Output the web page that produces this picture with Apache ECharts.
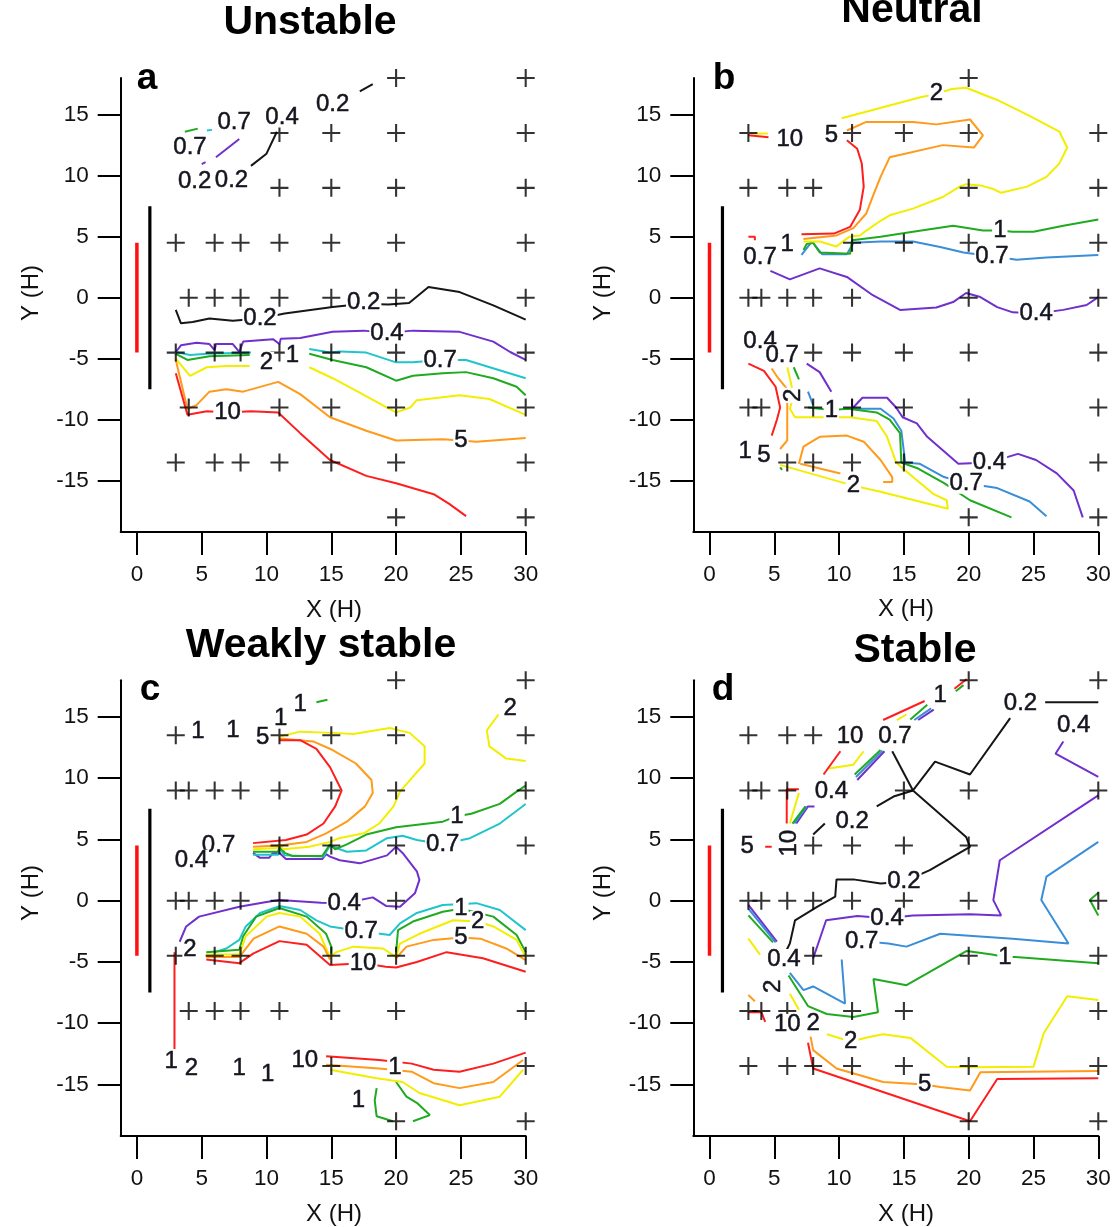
<!DOCTYPE html>
<html><head><meta charset="utf-8">
<script src="https://cdn.jsdelivr.net/npm/echarts@6/dist/echarts.min.js"></script>
<style>html,body{margin:0;padding:0;background:#fff}#c{width:1120px;height:1227px}</style>
</head><body><div id="c"></div>
<script>
// ---------- tick labels / titles ----------
const X_TICKS = [0, 5, 10, 15, 20, 25, 30];
const Y_TICKS = [-15, -10, -5, 0, 5, 10, 15];
const PANEL_TITLES = ['Unstable', 'Neutral', 'Weakly stable', 'Stable'];
const PANEL_LETTERS = ['a', 'b', 'c', 'd'];
const X_NAME = 'X (H)';
const Y_NAME = 'Y (H)';
const RED_BAR = [[0, 4.5], [0, -4.5]];
const BLACK_BAR = [[1, 7.5], [1, -7.5]];

// ---------- panel a (Unstable) ----------
const A_PLUS = [[20,18],[30,18],[11,13.5],[15,13.5],[20,13.5],[30,13.5],[11,9],[15,9],[20,9],[30,9],
 [3,4.5],[6,4.5],[8,4.5],[11,4.5],[15,4.5],[20,4.5],[30,4.5],[4,0],[6,0],[8,0],[11,0],[15,0],[20,0],[30,0],
 [3,-4.5],[6,-4.5],[8,-4.5],[11,-4.5],[15,-4.5],[20,-4.5],[30,-4.5],[4,-9],[11,-9],[15,-9],[20,-9],[30,-9],
 [3,-13.5],[6,-13.5],[8,-13.5],[11,-13.5],[15,-13.5],[20,-13.5],[30,-13.5],[20,-18],[30,-18]];
const A_L02 = [
 [[17.2,16.9],[18.2,17.5]],
 [[8.8,10.8],[10,11.8],[10.8,13.6]],
 [[3,-1.0],[3.4,-2.1],[4.3,-2.0],[5.6,-1.7],[7.4,-1.9],[9.5,-1.7],[11.4,-1.3],[15.1,-0.77],[17.5,-0.5],[19.4,-0.55],[21,-0.44],[22.5,0.87],[24.9,0.46],[27.5,-0.63],[30,-1.8]]];
const A_L04 = [
 [[6.1,11.5],[7.9,13.0]],
 [[5.0,10.95],[5.3,11.1]],
 [[3,-4.45],[3.4,-3.9],[4.6,-3.7],[5.6,-3.8],[6,-4.3],[6.1,-3.8],[7.4,-3.8],[7.9,-4.45],[8.2,-3.6],[10.5,-3.4],[11,-3.8],[11.1,-3.36],[12.6,-3.3],[15.1,-2.8],[17.5,-2.7],[19.3,-2.9],[21.3,-2.7],[24.9,-2.8],[27.5,-3.6],[28.8,-4.45],[30,-5.1]]];
const A_L07 = [
 [[5.4,13.7],[5.8,13.75]],
 [[3,-4.45],[4.1,-4.7],[5.4,-4.6],[8.8,-4.5]],
 [[13.3,-4.2],[14.9,-4.5],[15.7,-4.4],[17.7,-4.5],[20,-5.3],[21.3,-5.3],[23.4,-5.1],[25.4,-5.1],[30,-6.6]]];
const A_L1 = [
 [[3.7,13.6],[4.7,13.85]],
 [[3,-4.6],[3.9,-5.1],[5.6,-4.8],[8.7,-4.7]],
 [[13.3,-4.6],[15.1,-5.1],[17.7,-5.7],[20,-6.8],[21.3,-6.4],[23.6,-6.2],[25.4,-6.1],[27.5,-6.6],[29.3,-7.3],[30,-8.0]]];
const A_L2 = [
 [[3,-5.0],[4.1,-6.4],[5.4,-5.7],[6.9,-5.6],[8.7,-5.6]],
 [[13.3,-5.7],[15.1,-6.6],[17.4,-7.9],[19.3,-9.0],[20,-9.4],[21.1,-9.0],[21.6,-8.4],[24.9,-8.0],[27.2,-8.3],[30,-9.6]]];
const A_L5 = [
 [[3,-5.1],[3.9,-9.1],[4.6,-8.8],[5.6,-7.7],[6.9,-7.5],[8.2,-7.7],[10.9,-6.9],[12.6,-7.9],[14.9,-9.8],[17.7,-10.9],[20,-11.7],[23.6,-11.6],[25,-11.7],[26.2,-11.8],[30,-11.5]]];
const A_L10 = [
 [[3,-6.2],[3.9,-9.6],[5.4,-9.3],[7,-9.4],[8.8,-9.3],[10.9,-9.4],[12.6,-11.1],[14.9,-13.3],[17.7,-14.6],[20,-15.2],[22.9,-16.1],[24.1,-16.9],[25.4,-17.9]]];
const A_LABELS = [[15.1,15.8,'0.2'],[11.2,14.8,'0.4'],[7.5,14.4,'0.7'],[4.1,12.3,'0.7'],[4.45,9.5,'0.2'],[7.3,9.6,'0.2'],
 [9.5,-1.7,'0.2'],[17.5,-0.4,'0.2'],[19.3,-2.9,'0.4'],[23.4,-5.1,'0.7'],[12.0,-4.7,'1'],[10,-5.3,'2'],[25,-11.7,'5'],[7,-9.4,'10']];
const A_ROT = [];

// ---------- panel b (Neutral) ----------
const B_PLUS = [[20,18],[3,13.5],[11,13.5],[15,13.5],[20,13.5],[30,13.5],[3,9],[6,9],[8,9],[20,9],[30,9],
 [11,4.5],[15,4.5],[20,4.5],[30,4.5],[3,0],[4,0],[6,0],[8,0],[11,0],[20,0],[30,0],
 [8,-4.5],[11,-4.5],[15,-4.5],[20,-4.5],[30,-4.5],[3,-9],[4,-9],[8,-9],[11,-9],[15,-9],[20,-9],[30,-9],
 [6,-13.5],[8,-13.5],[11,-13.5],[15,-13.5],[30,-13.5],[20,-18],[30,-18]];
const B_L04 = [
 [[4.7,2.2],[6.2,1.5],[8.5,2.4],[10.6,1.7],[12.6,0.2],[14.7,-1.0],[17.5,-0.8],[18.8,-0.36],[19.8,0.38],[20.9,0.05],[22.2,-0.77],[23.4,-1.2],[25.2,-1.3],[27.3,-1.0],[29.1,-0.6],[30,0.05]],
 [[7.5,-5.4],[8.5,-6.1],[9.4,-7.7]],
 [[11,-8.3],[11,-9.1],[11.8,-8.2],[13.7,-8.2],[14.4,-9.0],[14.9,-9.8],[16,-10.3],[16.8,-11.4],[18,-12.5],[19.2,-13.6],[21.6,-13.5],[23.8,-12.8],[25.2,-13.3],[26.8,-14.4],[28.1,-15.8],[28.8,-18]]];
const B_L07 = [
 [[7.1,3.5],[7.9,4.6],[8.7,3.55],[10.6,3.55],[11.1,4.5],[13.2,4.6],[15.7,4.6],[17.8,4.15],[19.6,3.7],[21.8,3.4],[23.7,3.1],[26,3.3],[30,3.5]],
 [[7.6,-7.7],[8,-8.8]],
 [[11.1,-9.1],[13.2,-9.1],[14.2,-9.9],[14.8,-10.9],[15.1,-13.5],[16.2,-13.6],[18.1,-14.7],[19.8,-15.2],[22.2,-15.6],[24.7,-16.7],[26,-17.9]]];
const B_L1 = [
 [[7.25,3.9],[7.5,4.4],[8,4.5],[8.5,3.7],[10.85,3.6],[11,4.7],[13.2,5.0],[15.7,5.4],[18.8,5.9],[21.1,5.5],[22.4,5.5],[23.4,5.4],[25,5.4],[27.3,5.9],[30,6.4]],
 [[6.5,-5.7],[6.9,-6.7]],
 [[7.6,-9.0],[9.4,-9.2],[10.7,-9.1],[12.9,-9.4],[13.9,-10],[14.7,-11.1],[14.8,-13.5],[16.1,-14.0],[18.1,-15.2],[20.1,-16.6],[23.3,-18]],
 [[5.45,-13.9],[5.6,-14.1]]];
const B_L2 = [
 [[10.2,14.7],[16.2,16.4],[17.5,16.7],[18.7,17.1],[19.8,17.2],[22.2,16.2],[24.7,14.9],[27,13.6],[27.6,12.3],[27,11.0],[26,9.9],[24.5,9.1],[22.5,8.6],[21.9,8.9],[20.9,9.2],[19.8,9.3],[19.3,9.1],[18,8.25],[15.7,7.3],[13.9,6.75],[13.2,6.3],[12.1,5.5],[11.6,5.1],[10.8,5.0],[9.8,4.2],[8.5,4.6],[7.25,4.6]],
 [[3.2,13.45],[4.5,13.45]],
 [[6,-5.7],[6.2,-6.6],[6.5,-8.0],[6.2,-9.1],[6.6,-9.8],[8.3,-9.8],[10.85,-9.8],[12.9,-10.1],[13.7,-11.4],[14.4,-13.5],[15.7,-14.7],[17.3,-16.1],[18.3,-16.6],[18.4,-17.3],[13.2,-15.9],[11.1,-15.4],[5.45,-13.7]]];
const B_L5 = [
 [[10.6,13.7],[12.1,14.4],[15.7,14.4],[17.5,14.2],[20.1,14.6],[21.1,13.3],[20.4,12.3],[18,12.5],[13.9,11.5],[13.2,9.9],[12.6,8.3],[12.1,6.9],[11.1,5.7],[9.8,5.1],[7.25,4.8]],
 [[4.8,-5.8],[5.3,-6.6],[6,-7.5],[6,-9.2],[6,-11.7],[5.45,-12.4]],
 [[6.9,-13.6],[7.25,-12.2],[8.5,-11.4],[10.6,-11.3],[11.9,-11.8],[13.2,-13.3],[14.1,-14.7],[14.1,-15.1],[13.4,-15.1]],
 [[7,-13.6],[10.1,-14.4]]];
const B_L10 = [
 [[3,13.3],[4.55,13.15]],
 [[10.6,12.9],[11.4,12.2],[11.75,11.0],[11.9,9.1],[11.6,7.2],[10.85,5.8],[9.6,5.25],[7.1,5.2]],
 [[3,5.0],[3.5,5.0],[3.5,4.7]],
 [[3,-5.4],[4.2,-6.0],[5.1,-7.3],[5.45,-9.0],[5.2,-10.0],[4.8,-11.3]]];
const B_LABELS = [[17.5,16.7,'2'],[9.4,13.3,'5'],[6.2,13.0,'10'],[6,4.4,'1'],[3.9,3.3,'0.7'],[22.4,5.5,'1'],[21.8,3.4,'0.7'],[25.2,-1.3,'0.4'],
 [3.9,-3.6,'0.4'],[5.6,-4.7,'0.7'],[9.4,-9.2,'1'],[2.75,-12.6,'1'],[4.2,-12.9,'5'],[11.1,-15.4,'2'],[21.6,-13.5,'0.4'],[19.8,-15.2,'0.7']];
const B_ROT = [[6.5,-8.0,'2']];

// ---------- panel c (Weakly stable) ----------
const C_PLUS = [[20,18],[30,18],[3,13.5],[11,13.5],[15,13.5],[20,13.5],[30,13.5],
 [3,9],[4,9],[6,9],[8,9],[11,9],[15,9],[20,9],[30,9],[11,4.5],[15,4.5],[20,4.5],[30,4.5],
 [3,0],[4,0],[6,0],[8,0],[11,0],[20,0],[3,-4.5],[6,-4.5],[8,-4.5],[15,-4.5],[20,-4.5],[30,-4.5],
 [4,-9],[6,-9],[8,-9],[11,-9],[15,-9],[20,-9],[30,-9],[15,-13.5],[30,-13.5],[20,-18],[30,-18]];
const C_L04 = [
 [[8.96,3.9],[9.5,3.5],[10.2,3.5],[10.5,3.9],[11,3.9],[11.5,3.4],[12,3.4],[14.3,3.4],[14.6,3.8],[14.9,3.6],[15.65,3.3],[17.2,3.05],[19.3,3.7],[20,4.4],[20.5,3.9],[21.6,2.4],[21.8,1.7],[21.45,0.6],[20.3,-0.5],[19.25,-0.44],[18.2,0.27],[16,-0.2],[14.2,-0.16],[11,0.05],[10,-0.1],[7.9,-0.5],[4.8,-1.3],[3.8,-2.1],[3.3,-3.35]]];
const C_L07 = [
 [[8.96,3.75],[10.9,3.75],[11,4.3],[11.4,3.7],[14.4,3.6],[14.9,4.5],[15.1,4.4],[16.2,4.0],[17.7,4.1],[19.3,5.1],[20.5,5.3],[21.6,4.95],[23.6,4.6],[25.7,5.1],[28,6.3],[30,7.9]],
 [[6,-4.2],[6.9,-3.9],[7.9,-3.2],[8.4,-2.1],[9.5,-1.0],[11,-0.44],[12.6,-0.76],[13.85,-1.6],[14.9,-2.1],[17.3,-2.5],[19.5,-2.8],[20.3,-1.85],[21.6,-1.0],[23.6,-0.35],[26.2,-0.2],[28,-0.76],[30,-2.4]]];
const C_L1 = [
 [[13.85,16.2],[14.7,16.4]],
 [[8.96,4.0],[10.9,4.0],[11,4.5],[11.4,3.9],[12,3.65],[14.3,3.65],[14.9,4.6],[15.3,4.2],[16.2,4.6],[17.7,5.4],[20,6.0],[23.6,6.45],[24.7,6.9],[25.8,7.1],[28,7.9],[29.3,8.9],[30,9.4]],
 [[5.35,-4.2],[7.9,-4.0],[8.2,-2.9],[9.2,-1.3],[11,-0.6],[13.1,-1.3],[14.6,-2.7],[15,-3.75],[15,-4.3]],
 [[20,-4.2],[20.15,-2.4],[21.3,-1.7],[23.6,-0.9],[25,-0.65],[27.5,-1.3],[29.3,-2.8],[30,-4.2]],
 [[18.5,-15.3],[18.35,-16.3],[18.5,-17.6],[19.75,-18.0]],
 [[20,-14.8],[20.8,-16.0],[21.6,-16.5],[22.6,-17.5],[21.3,-18.0]]];
const C_L2 = [
 [[11,13.4],[12.6,13.8],[15.1,13.7],[16.7,13.6],[19.5,14.1],[21.05,13.7],[22.2,12.6],[22.2,11.2],[21.2,10.0],[20.3,8.9],[19.8,7.7],[18.7,6.3],[17.5,5.5],[15.6,5.1],[14.9,4.8],[13.3,4.4],[11.3,4.2],[11,4.6],[10.75,4.3],[8.96,4.2]],
 [[27.9,15.2],[27,13.9],[27.2,12.6],[28.5,11.6],[30,11.4]],
 [[5.35,-4.4],[7.9,-4.4],[8.4,-2.9],[10,-1.3],[11,-1.0],[12.6,-1.3],[14.1,-2.7],[14.9,-4.6],[15.4,-4.2],[16.7,-3.75],[19,-3.9],[20,-4.6]],
 [[20,-4.6],[20.3,-3.5],[21.8,-2.7],[24.4,-1.6],[26.3,-1.7],[27.5,-2.1],[29.3,-3.2],[30,-4.6]],
 [[14.9,-13.8],[18.5,-14.5],[20.5,-14.8],[21.8,-15.7],[24.9,-16.7],[28,-16.0],[29.8,-13.8]]];
const C_L5 = [
 [[11,13.25],[13.6,13.0],[15.1,12.3],[16.9,11.2],[18.1,9.85],[18.2,8.8],[17.6,7.7],[16.2,6.45],[14.6,5.5],[13.1,4.8],[11,4.5],[8.96,4.4]],
 [[5.35,-4.6],[7.9,-4.6],[9,-3.1],[11,-2.1],[13.1,-2.7],[14.4,-3.75],[14.9,-4.8]],
 [[20,-4.7],[20.8,-3.75],[22.9,-3.2],[25,-3.0],[26.5,-3.1],[28.5,-3.9],[30,-4.85]],
 [[14.6,-13.4],[18.7,-13.7],[21.2,-13.96],[22.9,-14.9],[24.9,-15.3],[27.5,-14.8],[29.8,-13.0]]];
const C_L10 = [
 [[11,13.1],[12.6,13.1],[13.85,12.4],[14.9,10.9],[15.8,9.0],[15.3,7.7],[14.4,6.3],[13.1,5.4],[11.5,4.95],[8.96,4.7]],
 [[5.35,-4.8],[7.9,-5.1],[9,-4.3],[11,-3.3],[13.1,-3.6],[14.9,-5.25],[17.45,-5.1],[19.2,-5.4],[20,-5.45],[21.6,-5.0],[23.9,-4.2],[26.7,-4.7],[30,-5.8]],
 [[2.9,-4.2],[2.9,-12.1]],
 [[14.6,-12.7],[18.7,-13.0],[21.2,-13.3],[22.9,-13.8],[24.9,-13.96],[27.5,-13.3],[30,-12.4]]];
const C_LABELS = [[12.6,16.0,'1'],[11.1,14.9,'1'],[4.7,13.8,'1'],[7.4,13.9,'1'],[9.7,13.3,'5'],[28.8,15.7,'2'],
 [24.7,6.9,'1'],[23.6,4.6,'0.7'],[6.3,4.55,'0.7'],[4.2,3.3,'0.4'],[16,-0.2,'0.4'],
 [17.3,-2.5,'0.7'],[17.45,-5.1,'10'],[25,-0.6,'1'],[26.3,-1.7,'2'],[25,-3.0,'5'],[4.1,-4.0,'2'],
 [2.65,-13.1,'1'],[4.2,-13.7,'2'],[7.9,-13.7,'1'],[10.1,-14.2,'1'],[12.95,-13.0,'10'],[19.9,-13.6,'1'],[17.1,-16.3,'1']];
const C_ROT = [];

// ---------- panel d (Stable) ----------
const D_PLUS = [[20,18],[30,18],[3,13.5],[6,13.5],[8,13.5],[3,9],[4,9],[6,9],[15,9],[20,9],[30,9],
 [8,4.5],[11,4.5],[15,4.5],[20,4.5],[3,0],[4,0],[6,0],[8,0],[11,0],[15,0],[20,0],[30,0],
 [8,-4.5],[20,-4.5],[30,-4.5],[3,-9],[4,-9],[6,-9],[11,-9],[15,-9],[30,-9],
 [3,-13.5],[6,-13.5],[8,-13.5],[11,-13.5],[15,-13.5],[20,-13.5],[30,-13.5],[20,-18],[30,-18]];
const D_L02 = [
 [[25.9,16.2],[30,16.2]],
 [[23.2,14.9],[20.1,10.3],[17.4,11.35],[15.7,9.0]],
 [[14.1,12.2],[15.7,9.0]],
 [[15.7,9.0],[14.2,8.5],[12.9,7.7]],
 [[8.9,6.3],[8,5.4]],
 [[15.7,9.0],[19.8,5.2],[20.1,4.4],[17,2.5],[15,1.55],[13.2,1.4],[11.1,1.74],[9.8,1.74],[9.7,0.33],[8.3,-0.5],[6.6,-1.6],[6.2,-3.5],[5.96,-4.0]]];
const D_L04 = [
 [[27.3,13.0],[26.7,12.0],[30,10.1]],
 [[30,8.6],[22.4,3.3],[21.9,0.05],[22.5,-1.2],[20.1,-1.1],[15.7,-1.2],[13.7,-1.44],[11.4,-1.25],[9,-1.6],[8,-4.7]],
 [[16.1,14.75],[17.3,15.6]],
 [[11.4,9.85],[13.5,12.2]],
 [[6.7,6.3],[7.6,7.7],[8.1,7.7]],
 [[3,-0.35],[5.2,-3.35]]];
const D_L07 = [
 [[30,4.8],[26,1.96],[25.6,0.05],[27.7,-3.5],[23.4,-3.1],[17.8,-2.7],[15.2,-3.75],[13.8,-3.5],[11.75,-3.3]],
 [[10.2,-4.8],[10.46,-8.4],[8,-7.0],[7.25,-7.3],[6.2,-5.9]],
 [[15.8,14.75],[17.1,15.7]],
 [[11.3,10.1],[13.35,12.25]],
 [[6.55,6.3],[7.5,7.7]],
 [[3,-0.65],[5.1,-3.4]]];
const D_L1 = [
 [[30,-5.1],[23.6,-4.6],[22.8,-4.6],[21.8,-4.4],[19.85,-4.1],[15.2,-6.9],[12.65,-6.4],[13.0,-9.1],[11.1,-9.5],[9.05,-9.25],[7.6,-8.6],[6.1,-6.1]],
 [[30,0.65],[29.35,0.05],[30,-1.2]],
 [[15.5,14.8],[16.8,16.0]],
 [[19.0,17.1],[19.6,17.6]],
 [[11.2,10.3],[13.2,12.3]],
 [[6.4,6.3],[7.4,7.7]],
 [[3,-1.2],[4.9,-3.4]]];
const D_L2 = [
 [[30,-8.1],[27.6,-7.8],[25.8,-10.8],[25,-13.55],[20.4,-13.6],[18.3,-13.55],[15.5,-11.2],[13.4,-10.9],[12.4,-11.1],[10.9,-11.5],[9.05,-10.9]],
 [[6.2,-7.6],[6.9,-8.9]],
 [[3,-3.1],[3.9,-4.4]],
 [[14.45,14.75],[15.2,15.2]],
 [[9.2,10.8],[11.1,11.1],[11.9,12.2]],
 [[6.2,6.3],[6.9,8.8]]];
const D_L5 = [
 [[30,-13.9],[20.9,-14.0],[20.1,-15.5],[17.8,-15.2],[16.6,-15.0],[13.4,-14.8],[9.8,-13.7],[8,-12.2],[7.8,-11.1]],
 [[3,-7.7],[3.5,-8.2]]];
const D_L10 = [
 [[30,-14.5],[22.2,-14.55],[20.1,-18],[8,-13.7],[7.6,-11.6]],
 [[3,-9.1],[4.0,-9.1],[4.3,-9.9]],
 [[13.4,14.75],[16.6,16.3]],
 [[18.9,17.3],[19.85,18.1]],
 [[8.8,10.3],[10.1,12.2]],
 [[5.96,6.3],[5.96,9.1],[6.9,9.1]],
 [[4.3,4.4],[4.8,4.4]]];
const D_LABELS = [[17.8,16.8,'1'],[24,16.1,'0.2'],[28.1,14.3,'0.4'],[10.85,13.4,'10'],[14.3,13.4,'0.7'],[9.4,8.9,'0.4'],
 [11,6.45,'0.2'],[2.9,4.4,'5'],[15,1.55,'0.2'],[13.7,-1.44,'0.4'],[11.75,-3.3,'0.7'],[22.8,-4.6,'1'],
 [5.75,-4.8,'0.4'],[6,-10.1,'10'],[8,-10,'2'],[10.9,-11.5,'2'],[16.6,-15,'5']];
const D_ROT = [[6.2,4.7,'10'],[4.9,-7.0,'2']];

// ---------- styling / layout ----------
const FONT = '"Liberation Sans", Arial, sans-serif';
const COL = {c02:'#161616', c04:'#7030cc', c1:'#20aa20', c2:'#f2ee00', c5:'#ff9a1a', c10:'#ff1e1e'};
const CYAN = '#20c4cc', BLUE = '#3a8ed8';
const PANELS = [
 {left:120.7, top:78, h:454, c07:CYAN, levels:[A_L02,A_L04,A_L07,A_L1,A_L2,A_L5,A_L10], plus:A_PLUS, labels:A_LABELS, rot:A_ROT},
 {left:693.3, top:78, h:454, c07:BLUE, levels:[[],B_L04,B_L07,B_L1,B_L2,B_L5,B_L10], plus:B_PLUS, labels:B_LABELS, rot:B_ROT},
 {left:120.7, top:680.2, h:455.7, c07:CYAN, levels:[[],C_L04,C_L07,C_L1,C_L2,C_L5,C_L10], plus:C_PLUS, labels:C_LABELS, rot:C_ROT},
 {left:693.3, top:680.2, h:455.7, c07:BLUE, levels:[D_L02,D_L04,D_L07,D_L1,D_L2,D_L5,D_L10], plus:D_PLUS, labels:D_LABELS, rot:D_ROT}
];
const PLUS_PATH = 'path://M8.4,0H10.6V19H8.4Z M0,8.4H19V10.6H0Z';

const grids = [], xAxes = [], yAxes = [], series = [], graphics = [];
PANELS.forEach((p, i) => {
  grids.push({left:p.left, top:p.top, width:405, height:p.h, containLabel:false});
  xAxes.push({gridIndex:i, type:'value', min:-1.25, max:30,
    axisLine:{onZero:false, lineStyle:{color:'#000', width:2}},
    axisTick:{length:23, lineStyle:{color:'#000', width:2}, customValues:X_TICKS},
    axisLabel:{customValues:X_TICKS, margin:31, fontSize:22.5, color:'#111', fontFamily:FONT},
    splitLine:{show:false}});
  yAxes.push({gridIndex:i, type:'value', min:-19.2, max:18,
    axisLine:{onZero:false, lineStyle:{color:'#000', width:2}},
    axisTick:{length:23, lineStyle:{color:'#000', width:2}, customValues:Y_TICKS},
    axisLabel:{customValues:Y_TICKS, margin:32, fontSize:22.5, color:'#111', fontFamily:FONT},
    splitLine:{show:false}});
  const colors = [COL.c02, COL.c04, p.c07, COL.c1, COL.c2, COL.c5, COL.c10];
  p.levels.forEach((lines, li) => {
    lines.forEach(pts => {
      series.push({type:'line', xAxisIndex:i, yAxisIndex:i, data:pts, showSymbol:false, symbol:'none',
        clip:false, silent:true, lineStyle:{color:colors[li], width:2}, z:2});
    });
  });
  series.push({type:'line', xAxisIndex:i, yAxisIndex:i, data:RED_BAR, symbol:'none', lineStyle:{color:'#ff1010', width:3.5}, z:3});
  series.push({type:'line', xAxisIndex:i, yAxisIndex:i, data:BLACK_BAR, symbol:'none', lineStyle:{color:'#000', width:3.2}, z:3});
  series.push({type:'scatter', xAxisIndex:i, yAxisIndex:i, data:p.plus, symbol:PLUS_PATH, symbolSize:18,
    clip:false, itemStyle:{color:'#000'}, z:4, silent:true});
  const lbl = {show:true, position:'inside', formatter:q => q.name, fontSize:24, color:'#15151f', fontFamily:FONT,
    textBorderColor:'#15151f', textBorderWidth:0.5, opacity:1,
    backgroundColor:'#fff', padding:[0,1,0,1], lineHeight:21};
  series.push({type:'scatter', xAxisIndex:i, yAxisIndex:i, symbolSize:1, itemStyle:{color:'#fff', opacity:1},
    clip:false, z:5, silent:true, label:lbl,
    data:p.labels.map(l => ({value:[l[0], l[1]], name:l[2]}))});
  if (p.rot.length) series.push({type:'scatter', xAxisIndex:i, yAxisIndex:i, symbolSize:1, itemStyle:{color:'#fff', opacity:1},
    clip:false, z:5, silent:true, label:Object.assign({}, lbl, {rotate:90}),
    data:p.rot.map(l => ({value:[l[0], l[1]], name:l[2]}))});
});

const TITLE_POS = [[310,23],[912,11],[321,646],[915,651]];
const LETTER_POS = [[147,79],[724,79],[150,690],[723,690]];
const XNAME_POS = [[334,610],[906,609],[334,1214],[906,1214]];
const YNAME_POS = [[31,293],[603,293],[31,893],[603,893]];
for (let i = 0; i < 4; i++) {
  graphics.push({type:'text', x:TITLE_POS[i][0], y:TITLE_POS[i][1],
    style:{text:PANEL_TITLES[i], font:'bold 41px ' + FONT, fill:'#000', align:'center', verticalAlign:'middle'}});
  graphics.push({type:'text', x:LETTER_POS[i][0], y:LETTER_POS[i][1],
    style:{text:PANEL_LETTERS[i], font:'bold 37px ' + FONT, fill:'#000', align:'center', verticalAlign:'middle'}});
  graphics.push({type:'text', x:XNAME_POS[i][0], y:XNAME_POS[i][1],
    style:{text:X_NAME, font:'24px ' + FONT, fill:'#111', align:'center', verticalAlign:'middle'}});
  graphics.push({type:'text', x:YNAME_POS[i][0], y:YNAME_POS[i][1], rotation:Math.PI/2,
    style:{text:Y_NAME, font:'24px ' + FONT, fill:'#111', align:'center', verticalAlign:'middle'}});
}

const chart = echarts.init(document.getElementById('c'), null, {renderer:'canvas'});
chart.setOption({animation:false, backgroundColor:'#fff', grid:grids, xAxis:xAxes, yAxis:yAxes, series:series, graphic:graphics});
</script></body></html>
